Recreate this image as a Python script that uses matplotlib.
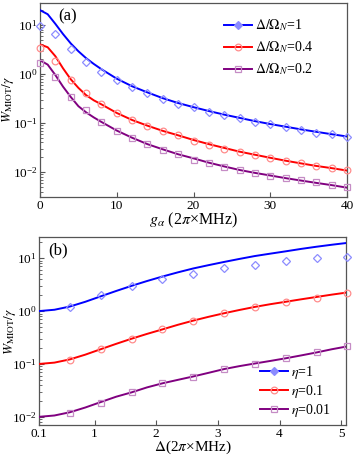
import matplotlib
matplotlib.use('Agg')
import matplotlib.pyplot as plt
from matplotlib.lines import Line2D
from matplotlib.ticker import LogLocator, NullFormatter, FixedLocator

plt.rcParams['font.family'] = ['Liberation Serif', 'DejaVu Serif']
plt.rcParams['mathtext.fontset'] = 'stix'

# panel (a): lines
g_line = [0, 1, 2, 3, 4, 5, 6, 7, 8, 10, 12, 14, 16, 18, 20, 22, 24, 26, 28, 30, 32, 34, 36, 38, 40]
a_blue_line = [20, 16.5, 10.5, 6.5, 4.2, 2.9, 2.1, 1.6, 1.25, 0.8, 0.56, 0.42, 0.32, 0.255, 0.21, 0.175,
               0.148, 0.127, 0.109, 0.095, 0.084, 0.074, 0.066, 0.059, 0.053]
a_red_line = [4.0, 3.5, 2.3, 1.3, 0.78, 0.52, 0.37, 0.29, 0.24, 0.16, 0.115, 0.088, 0.069, 0.056, 0.045,
              0.037, 0.031, 0.026, 0.0225, 0.0195, 0.017, 0.015, 0.0133, 0.012, 0.0107]
a_purple_line = [1.9, 1.55, 0.95, 0.55, 0.34, 0.22, 0.165, 0.13, 0.105, 0.07, 0.05, 0.037, 0.029, 0.023,
                 0.019, 0.0155, 0.013, 0.011, 0.0096, 0.0085, 0.0075, 0.0067, 0.006, 0.0054, 0.0048]

# panel (a): markers
g_pts = [0, 2, 4, 6, 8, 10, 12, 14, 16, 18, 20, 22, 24, 26, 28, 30, 32, 34, 36, 38, 40]
a_blue_pts = [9.5, 6.5, 3.2, 1.76, 1.1, 0.75, 0.54, 0.41, 0.31, 0.245, 0.21, 0.17, 0.146, 0.126, 0.105,
              0.094, 0.083, 0.072, 0.063, 0.06, 0.052]
a_red_pts = [3.4, 1.84, 0.75, 0.41, 0.245, 0.16, 0.115, 0.087, 0.069, 0.057, 0.043, 0.036, 0.029, 0.026,
             0.022, 0.019, 0.017, 0.015, 0.013, 0.012, 0.011]
a_purple_pts = [1.68, 0.87, 0.34, 0.18, 0.105, 0.069, 0.049, 0.037, 0.028, 0.023, 0.018, 0.015, 0.0126,
                0.011, 0.0095, 0.0083, 0.0076, 0.0069, 0.0063, 0.0055, 0.0049]
a_labels = [r'$\Delta/\Omega_N$=1', r'$\Delta/\Omega_N$=0.4', r'$\Delta/\Omega_N$=0.2']

# panel (b): lines
d_line = [0.1, 0.35, 0.6, 0.85, 1.1, 1.35, 1.6, 1.85, 2.1, 2.35, 2.6, 2.85, 3.1, 3.35, 3.6, 3.85, 4.1,
          4.35, 4.6, 4.85, 5.1]
b_blue_line = [1.0, 1.06, 1.22, 1.5, 1.9, 2.4, 3.0, 3.7, 4.5, 5.4, 6.4, 7.4, 8.5, 9.7, 11, 12.2, 13.5,
               15, 16.5, 18, 19.5]
b_red_line = [0.1, 0.106, 0.122, 0.15, 0.19, 0.24, 0.30, 0.37, 0.45, 0.55, 0.66, 0.78, 0.91, 1.05, 1.2,
              1.35, 1.5, 1.67, 1.85, 2.05, 2.25]
b_purple_line = [0.01, 0.0106, 0.0122, 0.015, 0.019, 0.024, 0.029, 0.036, 0.043, 0.05, 0.058, 0.068,
                 0.08, 0.091, 0.102, 0.114, 0.128, 0.145, 0.165, 0.19, 0.215]

# panel (b): markers
d_pts = [0.6, 1.1, 1.6, 2.1, 2.6, 3.1, 3.6, 4.1, 4.6, 5.1]
b_blue_pts = [1.2, 2.0, 3.0, 4.1, 5.1, 6.4, 7.5, 8.8, 10.0, 10.5]
b_red_pts = [0.12, 0.19, 0.30, 0.46, 0.66, 0.91, 1.2, 1.5, 1.8, 2.2]
b_purple_pts = [0.012, 0.018, 0.029, 0.043, 0.057, 0.081, 0.10, 0.13, 0.17, 0.22]
b_labels = [r'$\eta$=1', r'$\eta$=0.1', r'$\eta$=0.01']

line_colors = ['#0000ff', '#ff0000', '#800080']
mk_colors = ['#8c8cff', '#ff8c8c', '#c58cc5']
markers = ['D', 'o', 's']
msizes = [3.6, 4.8, 4.8]
spine_c = '#555555'

fig = plt.figure(figsize=(3.55, 4.57), dpi=100)
ax1 = fig.add_axes([0.1127, 0.569, 0.865, 0.4245])
ax2 = fig.add_axes([0.110, 0.070, 0.865, 0.411])


def draw(ax, xl, lines, xp, pts, labels, ylab_x):
    handles = []
    for i in range(3):
        ax.plot(xl, lines[i], color=line_colors[i], lw=1.4, zorder=3)
        ax.plot(xp, pts[i], ls='none', marker=markers[i], ms=msizes[i], mfc='none',
                mec=mk_colors[i], mew=0.9, clip_on=False, zorder=4)
        fc = mk_colors[i] if i == 0 else 'none'
        handles.append(Line2D([], [], color=line_colors[i], lw=1.4, marker=markers[i],
                              ms=msizes[i], mfc=fc, mec=mk_colors[i], mew=0.9))
    ax.set_yscale('log')
    for s in ax.spines.values():
        s.set_color(spine_c)
        s.set_linewidth(0.9)
    ax.tick_params(direction='in', which='both', colors=spine_c, labelcolor='black',
                   labelsize=9.5, top=False, right=False, pad=2)
    ax.tick_params(which='major', length=3.5)
    ax.tick_params(which='minor', length=2)
    ax.yaxis.set_minor_locator(LogLocator(base=10, subs=range(2, 10), numticks=20))
    ax.yaxis.set_minor_formatter(NullFormatter())
    ax.set_ylabel(r'$W_{\rm MIOT}/\gamma$', fontsize=9.5)
    ax.yaxis.set_label_coords(ylab_x, 0.5)
    return handles


h1 = draw(ax1, g_line, [a_blue_line, a_red_line, a_purple_line], g_pts,
          [a_blue_pts, a_red_pts, a_purple_pts], a_labels, -0.078)
ax1.set_xlim(0, 40)
ax1.set_ylim(0.0031, 28)
ax1.set_xticks([0, 10, 20, 30, 40])
ax1.set_xlabel(r'$g_\alpha$ (2$\pi$×MHz)', fontsize=11.5)
ax1.xaxis.set_label_coords(0.5, -0.072)
ax1.text(0.06, 0.97, '(a)', transform=ax1.transAxes, fontsize=12, va='top')
ax1.legend(h1, a_labels, loc='upper right', frameon=False, fontsize=10, handlelength=2.0,
           handletextpad=0.2, labelspacing=0.45, bbox_to_anchor=(0.93, 0.99))

h2 = draw(ax2, d_line, [b_blue_line, b_red_line, b_purple_line], d_pts,
          [b_blue_pts, b_red_pts, b_purple_pts], b_labels, -0.07)
ax2.set_xlim(0.1, 5.08)
ax2.set_ylim(0.007, 25)
ax2.xaxis.set_major_locator(FixedLocator([0.1, 1, 2, 3, 4, 5]))
ax2.set_xticklabels(['0.1', '1', '2', '3', '4', '5'])
ax2.set_xlabel(r'$\Delta$(2$\pi$×MHz)', fontsize=11)
ax2.xaxis.set_label_coords(0.5, -0.074)
ax2.text(0.03, 0.97, '(b)', transform=ax2.transAxes, fontsize=12, va='top')
ax2.legend(h2, b_labels, loc='lower right', frameon=False, fontsize=10, handlelength=2.0,
           handletextpad=0.2, labelspacing=0.15, bbox_to_anchor=(0.99, -0.035))

fig.savefig('out.png', dpi=100)
